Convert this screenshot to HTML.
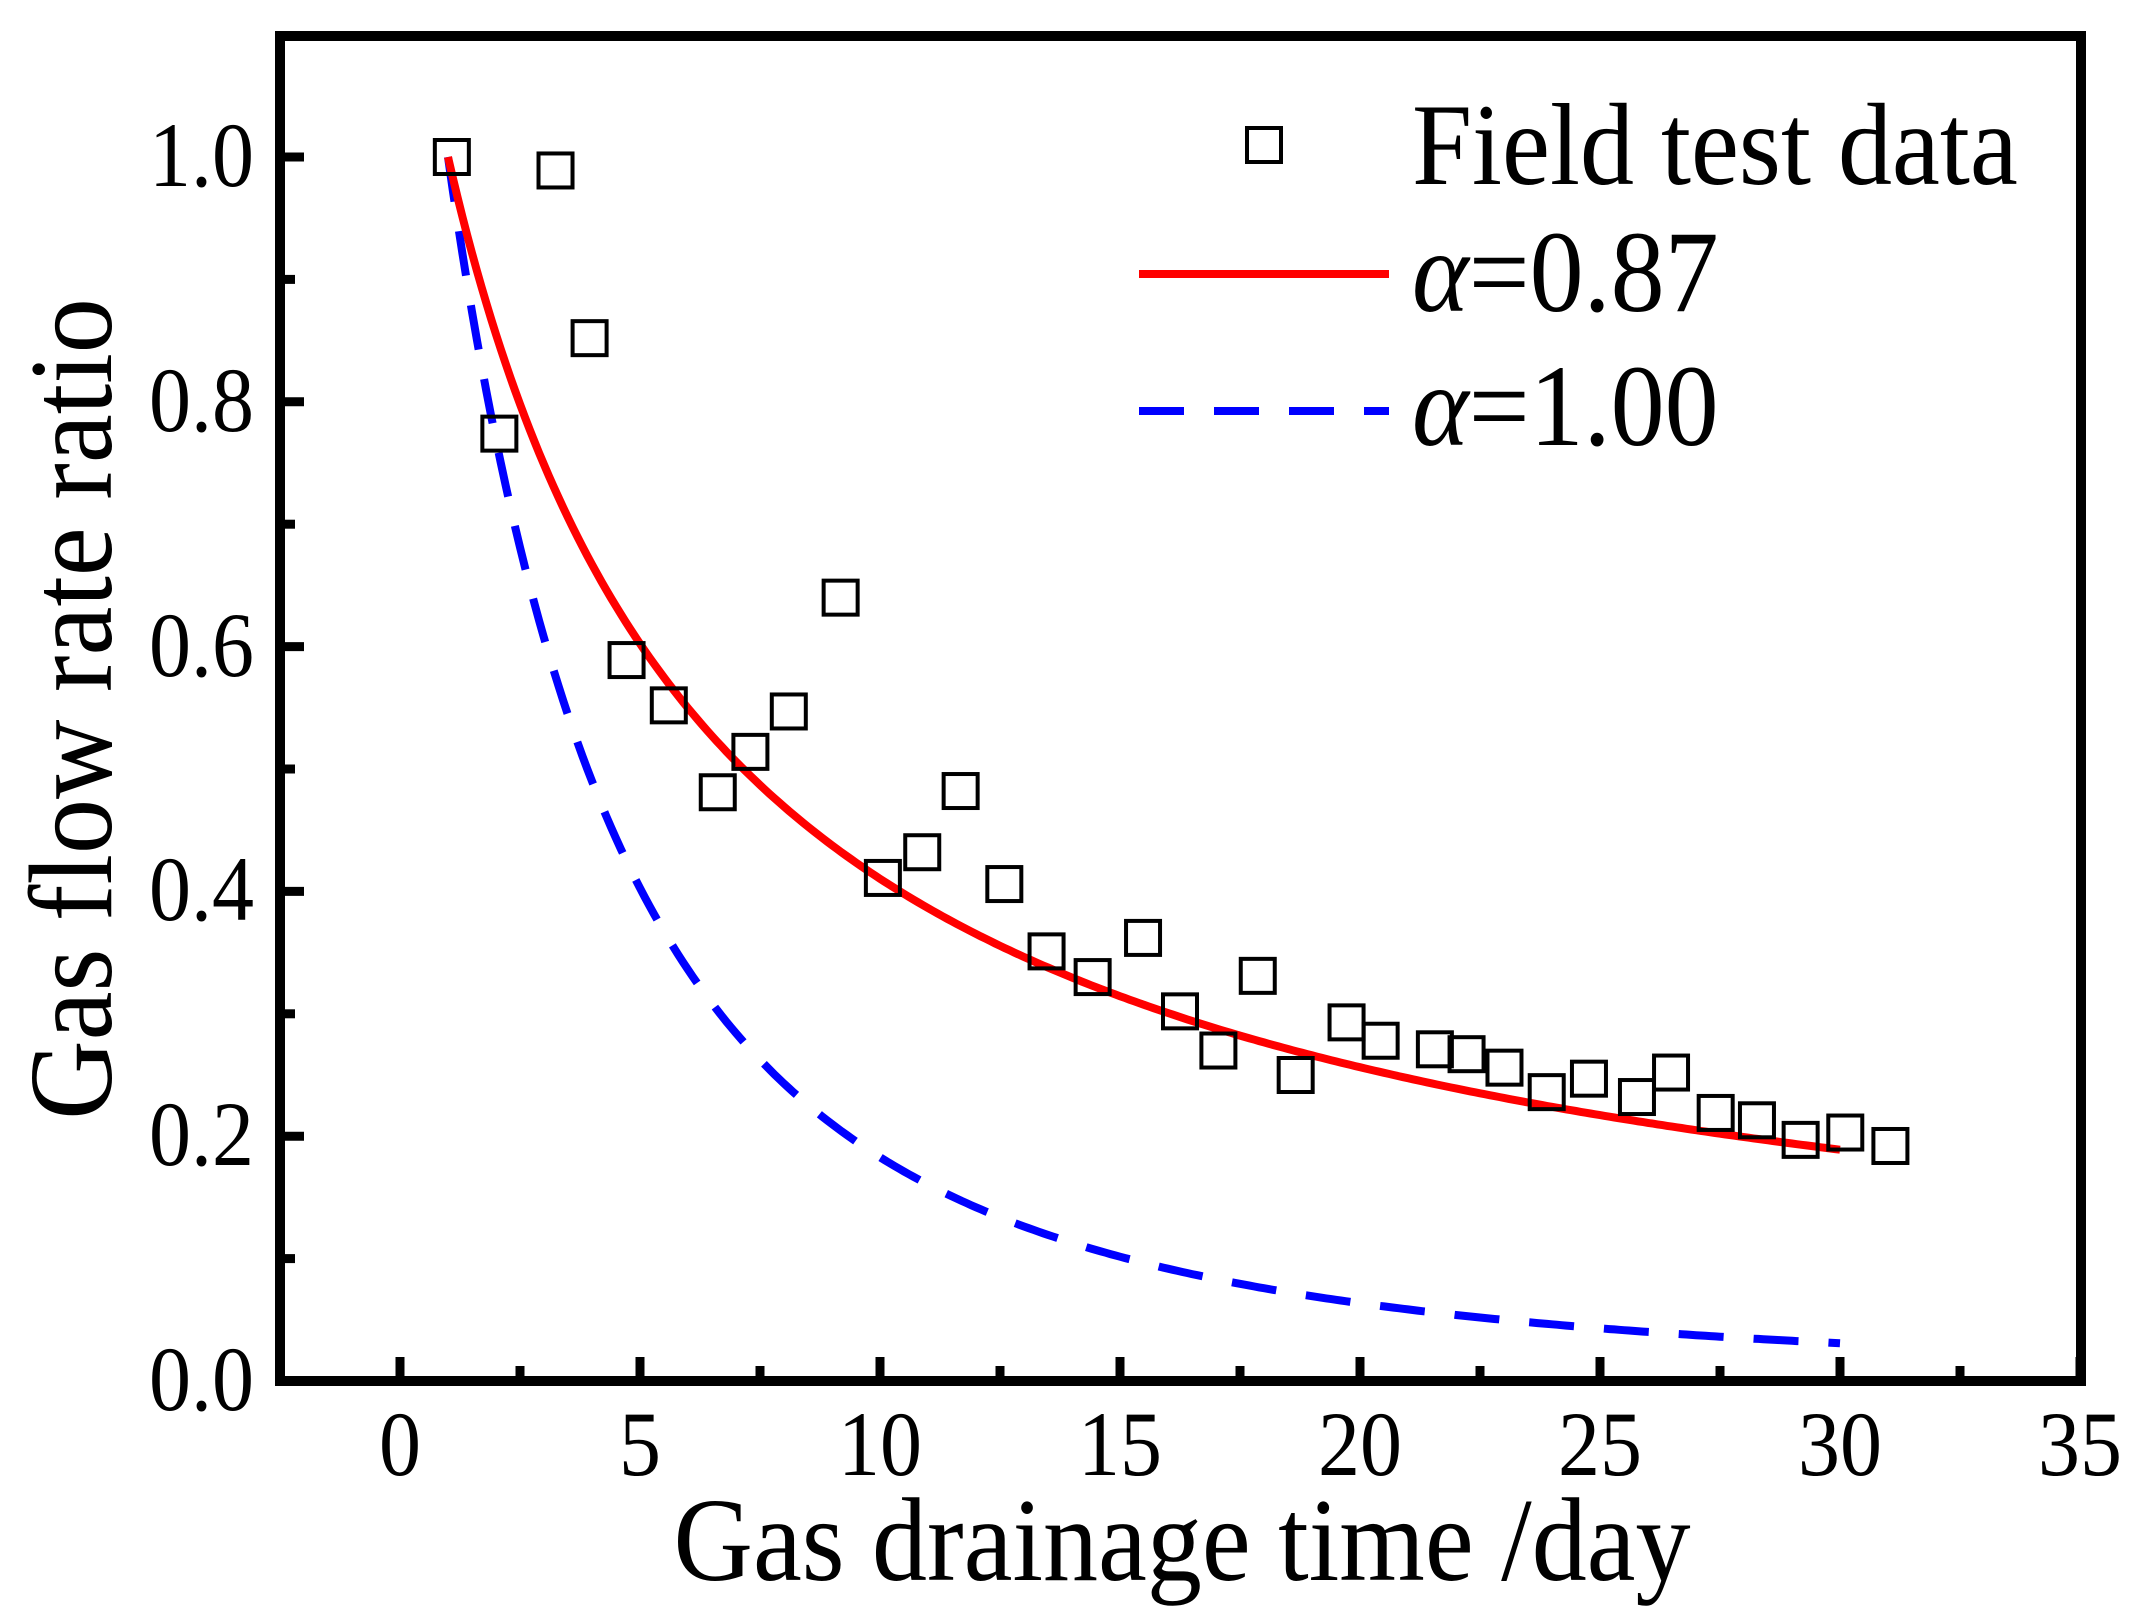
<!DOCTYPE html>
<html><head><meta charset="utf-8"><style>
html,body{margin:0;padding:0;background:#fff}
svg{display:block}
text{font-family:"Liberation Serif",serif;fill:#000}
</style></head><body>
<svg id="s" width="2135" height="1624" viewBox="0 0 2135 1624" xmlns="http://www.w3.org/2000/svg">
<rect x="0" y="0" width="2135" height="1624" fill="#fff"/>
<g id="plot"></g>
<rect x="280" y="36" width="1801" height="1345" fill="none" stroke="#000" stroke-width="10"/>
<g id="ticks" stroke="#000" stroke-width="9"></g>
<g font-size="84" text-anchor="middle">
<text transform="translate(400,1475) scale(1,1.1)">0</text><text transform="translate(640,1475) scale(1,1.1)">5</text><text transform="translate(880,1475) scale(1,1.1)">10</text><text transform="translate(1120,1475) scale(1,1.1)">15</text><text transform="translate(1360,1475) scale(1,1.1)">20</text><text transform="translate(1600,1475) scale(1,1.1)">25</text><text transform="translate(1840,1475) scale(1,1.1)">30</text><text transform="translate(2080,1475) scale(1,1.1)">35</text>
</g>
<g font-size="84" text-anchor="end">
<text transform="translate(254,1410) scale(1,1.1)">0.0</text><text transform="translate(254,1165) scale(1,1.1)">0.2</text><text transform="translate(254,920) scale(1,1.1)">0.4</text><text transform="translate(254,676) scale(1,1.1)">0.6</text><text transform="translate(254,431) scale(1,1.1)">0.8</text><text transform="translate(254,186) scale(1,1.1)">1.0</text>
</g>
<text transform="translate(1182,1580) scale(1,1.08)" font-size="110" text-anchor="middle">Gas drainage time /day</text>
<text transform="translate(111,709) rotate(-90) scale(1,1.08)" font-size="110" text-anchor="middle">Gas flow rate ratio</text>
<rect x="1247" y="128" width="34" height="34" fill="none" stroke="#000" stroke-width="4"/>
<text transform="translate(1412,184) scale(1,1.08)" font-size="108">Field test data</text>
<line x1="1139" y1="274" x2="1389" y2="274" stroke="#f00" stroke-width="8"/>
<text transform="translate(1412,311) scale(1,1.08)" font-size="108"><tspan font-style="italic">α</tspan>=0.87</text>
<line x1="1139" y1="411" x2="1389" y2="411" stroke="#00f" stroke-width="8" stroke-dasharray="45,30"/>
<text transform="translate(1412,445) scale(1,1.08)" font-size="108"><tspan font-style="italic">α</tspan>=1.00</text>
</svg>
<script>
var NS="http://www.w3.org/2000/svg";
function X(x){return 400+48*x}
function Y(y){return 1381-1224*y}
var g=document.getElementById("plot"),t=document.getElementById("ticks");
function el(n,a,p){var e=document.createElementNS(NS,n);for(var k in a)e.setAttribute(k,a[k]);p.appendChild(e);return e}
for(var i=0;i<=14;i++){var x=X(i*2.5);var L=i%2==0?19:10;el("line",{x1:x,y1:1376,x2:x,y2:1376-L},t);}
for(var i=0;i<=10;i++){var y=Y(i*0.1);var L=i%2==0?19:10;el("line",{x1:285,y1:y,x2:285+L,y2:y},t);}
function curve(k,p){var d="";for(var s=1;s<=30.001;s+=0.1){d+=(d?"L":"M")+X(s).toFixed(1)+","+Y(Math.pow(1+k*(s-1),-p)).toFixed(1);}return d}
el("path",{d:curve(0.12,2.32),fill:"none",stroke:"#00f","stroke-width":8,"stroke-dasharray":"45,30"},g);
el("path",{d:curve(0.195,0.879),fill:"none",stroke:"#f00","stroke-width":8},g);
var pts=[[1.08,1.0],[3.24,0.989],[3.95,0.852],[2.07,0.774],[4.72,0.589],[5.6,0.552],[6.62,0.481],[7.3,0.514],[8.1,0.547],[9.18,0.64],[10.06,0.411],[10.88,0.432],[11.68,0.482],[12.59,0.406],[13.47,0.351],[14.43,0.33],[15.48,0.362],[16.25,0.302],[17.05,0.27],[17.87,0.331],[18.66,0.25],[19.72,0.293],[20.43,0.278],[21.56,0.271],[22.22,0.267],[23.01,0.256],[23.89,0.236],[24.77,0.247],[25.77,0.232],[26.48,0.252],[27.41,0.219],[28.27,0.213],[29.18,0.197],[30.11,0.203],[31.05,0.192]];
pts.forEach(function(p){el("rect",{x:X(p[0])-17,y:Y(p[1])-17,width:34,height:34,fill:"none",stroke:"#000","stroke-width":4},g)});
</script>
</body></html>
